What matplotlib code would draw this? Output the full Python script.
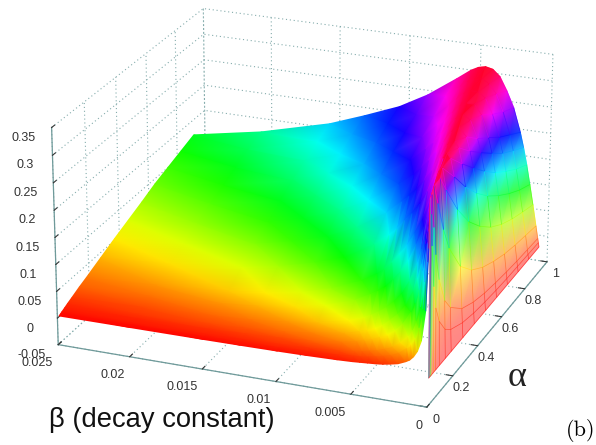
import numpy as np
import matplotlib
matplotlib.use('Agg')
import matplotlib.pyplot as plt
from matplotlib.collections import LineCollection
from matplotlib.colors import ListedColormap
from mpl_toolkits.mplot3d import proj3d

# surface heights, one row per alpha, one column per beta
alpha = [0.01, 0.02, 0.028, 0.046, 0.064, 0.092, 0.138, 0.184, 0.276, 0.368, 0.46, 0.552, 0.644, 0.736, 0.828, 0.92]
beta = [0, 0.00005, 0.0001, 0.00025, 0.0005, 0.00075, 0.001, 0.00125, 0.0015, 0.002, 0.0025, 0.003,
        0.0035, 0.004, 0.0045, 0.005, 0.006, 0.008, 0.01, 0.0125, 0.015, 0.02, 0.025]
height = [
    [0, .32, .232, .12, .065, .045, .034, .027, .023, .017, .014, .0115, .01, .009, .008, .007, .0058, .0044, .0035, .0028, .0023, .0018, .0014],
    [0, .29, .32, .205, .12, .085, .065, .053, .045, .034, .027, .023, .02, .017, .015, .014, .0115, .009, .007, .0056, .0047, .0035, .0028],
    [0, .232, .322, .257, .167, .12, .095, .077, .065, .05, .04, .034, .029, .026, .023, .021, .017, .013, .011, .0085, .007, .0053, .0042],
    [0, .155, .26, .32, .232, .18, .145, .12, .103, .08, .065, .055, .048, .042, .038, .034, .028, .021, .017, .014, .0115, .009, .007],
    [0, .112, .207, .328, .28, .224, .187, .16, .137, .108, .09, .077, .065, .057, .051, .047, .039, .03, .024, .019, .016, .012, .01],
    [0, .08, .155, .29, .32, .27, .232, .205, .18, .145, .12, .103, .09, .08, .072, .065, .055, .042, .034, .027, .023, .017, .014],
    [0, .053, .105, .232, .322, .32, .287, .257, .232, .198, .167, .145, .128, .113, .103, .095, .08, .062, .05, .04, .034, .026, .021],
    [0, .04, .08, .187, .29, .328, .32, .295, .27, .232, .205, .18, .162, .145, .13, .12, .103, .08, .065, .053, .045, .034, .027],
    [0, .027, .053, .13, .232, .29, .322, .33, .32, .287, .257, .232, .213, .198, .18, .167, .145, .113, .095, .077, .065, .05, .04],
    [0, .02, .04, .099, .187, .249, .29, .318, .328, .32, .295, .27, .25, .232, .218, .205, .18, .145, .12, .1, .085, .065, .053],
    [0, .016, .032, .08, .155, .215, .26, .29, .315, .33, .32, .30, .28, .262, .246, .232, .21, .172, .145, .12, .103, .08, .065],
    [0, .013, .027, .067, .13, .187, .232, .265, .29, .322, .33, .32, .303, .287, .27, .257, .232, .198, .167, .14, .12, .095, .077],
    [0, .011, .023, .057, .112, .165, .207, .242, .27, .31, .328, .328, .32, .306, .29, .28, .253, .218, .187, .16, .137, .108, .09],
    [0, .01, .02, .05, .099, .146, .187, .22, .249, .29, .318, .328, .328, .32, .308, .295, .27, .232, .205, .174, .153, .12, .1],
    [0, .009, .018, .045, .089, .13, .169, .203, .232, .273, .305, .322, .33, .327, .32, .309, .287, .245, .22, .19, .167, .133, .11],
    [0, .008, .016, .04, .08, .118, .155, .187, .215, .26, .29, .315, .327, .33, .327, .32, .30, .262, .232, .205, .18, .145, .12],
]
alpha_ticks = [0, 0.2, 0.4, 0.6, 0.8, 1]
beta_ticks = [0, 0.005, 0.01, 0.015, 0.02, 0.025]
z_ticks = [-0.05, 0, 0.05, 0.1, 0.15, 0.2, 0.25, 0.3, 0.35]

TEAL = '#6f9a9a'
ZMAX = 0.335
W, H = 596, 445
fig = plt.figure(figsize=(W / 100, H / 100), dpi=100)
ax = fig.add_axes([0.03163, -0.09607, 0.94883, 1.27079], projection='3d')
ax.set_xlim(0, 1)
ax.set_ylim(0, 0.025)
ax.set_zlim(-0.05, 0.35)
ax.view_init(elev=22.37, azim=-158.56)
ax.set_proj_type('persp', focal_length=1.131)
ax.set_box_aspect((1.62, 1.68, 1.0))

ax.set_xticks(alpha_ticks)
ax.set_xticklabels([f'{v:g}' for v in alpha_ticks])
ax.set_yticks(beta_ticks)
ax.set_yticklabels([f'{v:g}' for v in beta_ticks])
ax.set_zticks(z_ticks)
ax.set_zticklabels([f'{v:g}' for v in z_ticks])

for axis in (ax.xaxis, ax.yaxis, ax.zaxis):
    axis.set_pane_color((1, 1, 1, 0))
    axis.pane.set_edgecolor((1, 1, 1, 0))
    axis.line.set_color(TEAL)
    axis.line.set_linewidth(0.9)
    axis._axinfo['grid'].update(color='#86adad', linewidth=0.8, linestyle=(0, (1, 2.5)))
    axis._axinfo['tick'].update(color=TEAL, inward_factor=0, outward_factor=0.22)
ax.tick_params(labelsize=9, colors='#333333')
ax.tick_params(axis='x', pad=-3)
ax.tick_params(axis='y', pad=-1)
ax.tick_params(axis='z', pad=3)
for lab in ax.get_xticklabels() + ax.get_yticklabels() + ax.get_zticklabels():
    lab.set_family('Liberation Sans')
for lab in ax.get_yticklabels():
    lab.set_ha('right')

# project the table with the 3d axes, then shade it in a pixel axes on top
A, B = np.meshgrid(alpha, beta, indexing='ij')
Z = np.array(height)
ax.apply_aspect()
px, py, pz = proj3d.proj_transform(A.ravel(), B.ravel(), Z.ravel(), ax.get_proj())
xy = ax.transData.transform(np.column_stack([px, py]))
pz = np.asarray(pz)

n, m = Z.shape
idx = np.arange(n * m).reshape(n, m)
tris = []
for i in range(n - 1):
    for j in range(m - 1):
        tris.append([idx[i, j], idx[i + 1, j], idx[i + 1, j + 1]])
        tris.append([idx[i, j], idx[i + 1, j + 1], idx[i, j + 1]])
tris = np.array(tris)
tris = tris[np.argsort(-pz[tris].mean(axis=1))]

ratio = B.ravel()[tris].mean(axis=1) / A.ravel()[tris].mean(axis=1)
on_flap = ratio < 0.0042

# the flap is white faces with thin coloured lines, so it reads paler at low heights
hsv = plt.get_cmap('hsv')(np.linspace(0, 1, 256))
wash = 0.5 * ((1 - np.linspace(0, 1, 256)) ** 2)[:, None] + 0.03
pale = ListedColormap(hsv[:, :3] * (1 - wash) + wash)

# low bands spread further up the flap towards the fold, so push its colours down there
power = 1 + 1.2 * (1 - A / 0.92)
flap_c = ZMAX * (Z / ZMAX) ** power

over = fig.add_axes([0, 0, 1, 1], facecolor='none')
over.set_xlim(0, W)
over.set_ylim(0, H)
over.axis('off')
over.tripcolor(xy[:, 0], xy[:, 1], tris[~on_flap], Z.ravel(), cmap='hsv', vmin=0, vmax=ZMAX, shading='gouraud')
over.tripcolor(xy[:, 0], xy[:, 1], tris[on_flap], flap_c.ravel(), cmap=pale, vmin=0, vmax=ZMAX, shading='gouraud')

# coloured mesh lines over the flap
XY = xy.reshape(n, m, 2)
segs, cols = [], []
for i in range(n):
    for j in range(m):
        if B[i, j] / A[i, j] > 0.005:
            continue
        if i + 1 < n:
            segs.append([XY[i, j], XY[i + 1, j]])
            cols.append(hsv[int((flap_c[i, j] + flap_c[i + 1, j]) / 2 / ZMAX * 255)])
        if j + 1 < m and B[i, j + 1] / A[i, j + 1] <= 0.005:
            segs.append([XY[i, j], XY[i, j + 1]])
            cols.append(hsv[int((flap_c[i, j] + flap_c[i, j + 1]) / 2 / ZMAX * 255)])
over.add_collection(LineCollection(segs, colors=cols, linewidths=0.5, alpha=0.55))

# pixel positions from top-left of the picture
fig.text(517 / W, 1 - 377 / H, 'α', fontsize=26, family='Liberation Serif', color='#222222', ha='center', va='center')
fig.text(49 / W, 1 - 420 / H, 'β (decay constant)', fontsize=19.7, family='Liberation Sans', color='#111111', ha='left', va='center')
fig.text(581 / W, 1 - 430 / H, '(b)', fontsize=16, family='cmr10', color='black', ha='center', va='center')

fig.savefig('out.png', dpi=100)
